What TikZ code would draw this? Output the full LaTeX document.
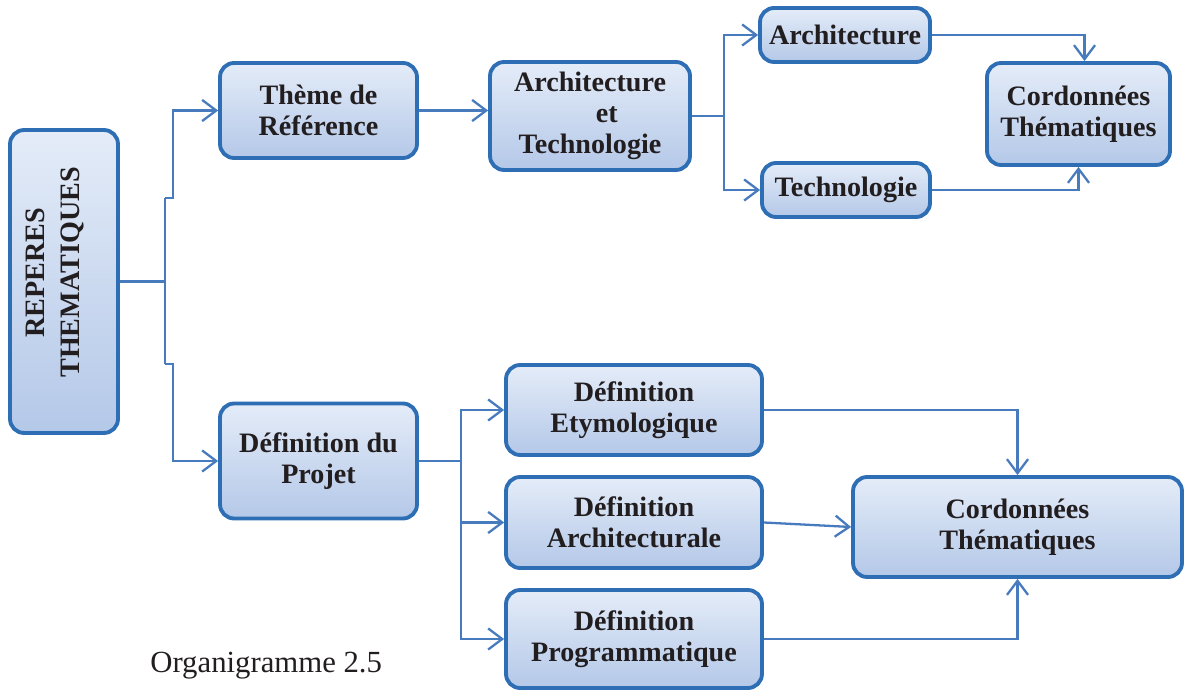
\documentclass[tikz,border=0pt]{standalone}
\usepackage{fontspec}
\setmainfont{Liberation Serif}
\usetikzlibrary{arrows.meta,calc}
\definecolor{boxline}{RGB}{46,110,180}
\definecolor{boxtop}{RGB}{228,236,248}
\definecolor{boxbot}{RGB}{180,200,232}
\definecolor{linkblue}{RGB}{72,122,190}
\definecolor{txt}{RGB}{34,30,32}
\tikzset{
  boxfont/.style={font=\fontsize{16}{17.5}\selectfont\bfseries},
  box/.style={draw=boxline, line width=2.2pt, rounded corners=8pt,
    top color=boxtop, bottom color=boxbot, inner sep=0pt,
    align=center, text=txt, boxfont},
  link/.style={draw=linkblue, line width=1.3pt},
  arr/.style={link, -{Straight Barb[length=8pt,width=12pt,line width=1.3pt]}},
}
\begin{document}
\begin{tikzpicture}[x=0.02cm, y=-0.02cm]
\useasboundingbox (0,0) rectangle (1186,692);

% boxes
\node[box, minimum width=2.16cm, minimum height=6.06cm] (rep) at (64,281.5) {};
\node[rotate=90, align=center, text=txt, font=\fontsize{16}{19.5}\selectfont\bfseries] (reptext) at ($(rep.center)+(-9,-9)$) {REPERES\\THEMATIQUES};

\node[box, minimum width=3.94cm, minimum height=1.9cm] (theme) at (318.5,110.5) {Thème de\\Référence};
\node[box, minimum width=4.0cm, minimum height=2.16cm] (at) at (590,116) {Architecture\\\hspace*{1.2em}et\\Technologie};
\node[box, minimum width=3.4cm, minimum height=1.08cm] (arch) at (845,35) {Architecture};
\node[box, minimum width=3.36cm, minimum height=1.08cm] (tech) at (846,190) {Technologie};
\node[box, minimum width=3.66cm, minimum height=2.04cm] (ct1) at (1078.5,114) {Cordonnées\\Thématiques};

\node[box, minimum width=3.94cm, minimum height=2.3cm] (proj) at (318.5,461) {Définition du\\Projet};
\node[box, minimum width=5.12cm, minimum height=1.8cm] (ety) at (634,410) {Définition\\Etymologique};
\node[box, minimum width=5.12cm, minimum height=1.82cm] (archl) at (634,522.5) {Définition\\Architecturale};
\node[box, minimum width=5.12cm, minimum height=1.96cm] (prog) at (634,639) {Définition\\Programmatique};
\node[box, minimum width=6.58cm, minimum height=2.0cm] (ct2) at (1017.5,527) {Cordonnées\\Thématiques};

% main trunk
\coordinate (jt) at (165,198);
\coordinate (jb) at (165,364);
\draw[link] (rep.east) -- (rep.east -| jt);
\draw[link] (jt) -- (jb);
\draw[arr] (jt) -- ++(8,0) |- (theme.west);
\draw[arr] (jb) -- ++(8,0) |- (proj.west);

% upper branch
\draw[arr] (theme.east) -- (theme.east -| at.west);
\coordinate (ja) at (724,116);
\draw[link] (at.east) -- (ja);
\draw[arr] (ja) |- (arch.west);
\draw[arr] (ja) |- (tech.west);
\draw[arr] (arch.east) -| ($(ct1.north)+(6,0)$);
\draw[arr] (tech.east) -| (ct1.south);

% lower branch
\coordinate (jp) at (461,461);
\draw[link] (proj.east) -- (jp);
\draw[arr] (jp) |- (ety.west);
\draw[arr] (jp) |- (prog.west);
\draw[arr] (jp |- archl.west) -- (archl.west);
\draw[arr] (ety.east) -| (ct2.north);
\draw[arr] (archl.east) -- (ct2.west);
\draw[arr] (prog.east) -| (ct2.south);

% caption
\node[anchor=base west, inner sep=0pt, text=txt, font=\fontsize{17.5}{20}\selectfont] (cap) at (150,672) {Organigramme 2.5};
\end{tikzpicture}
\end{document}
